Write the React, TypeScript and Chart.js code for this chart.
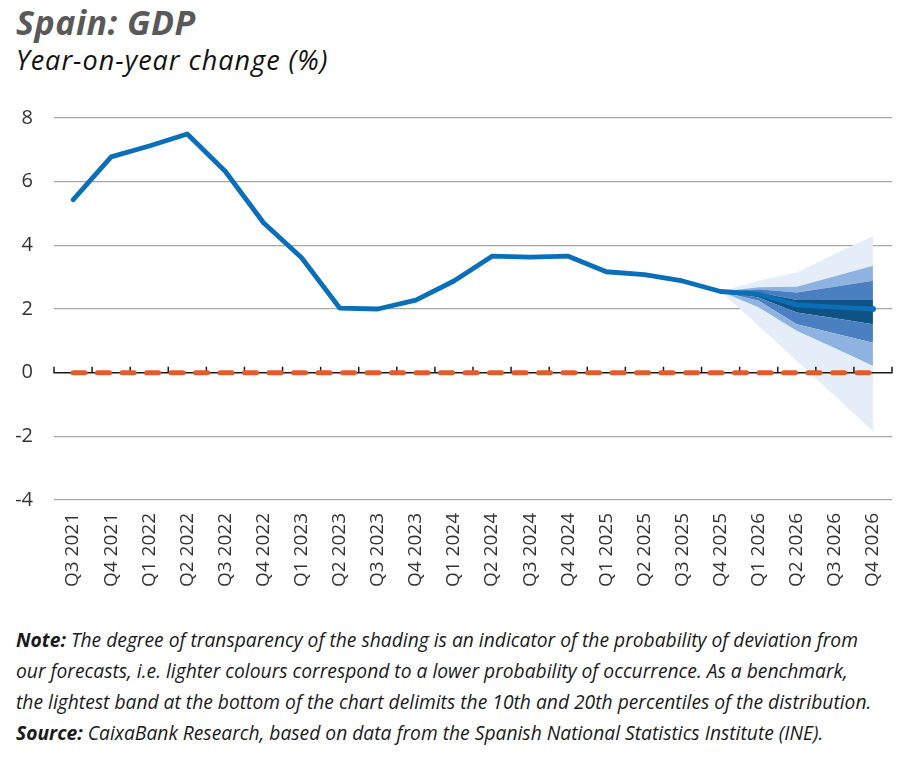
import React, { useEffect, useRef } from "react";
import { Chart, registerables } from "chart.js";

Chart.register(...registerables);

const categories = [
  "Q3 2021", "Q4 2021", "Q1 2022", "Q2 2022", "Q3 2022", "Q4 2022",
  "Q1 2023", "Q2 2023", "Q3 2023", "Q4 2023", "Q1 2024", "Q2 2024",
  "Q3 2024", "Q4 2024", "Q1 2025", "Q2 2025", "Q3 2025", "Q4 2025",
  "Q1 2026", "Q2 2026", "Q3 2026", "Q4 2026",
];

const yMin = -4;
const yMax = 8;
const yStep = 2;

// GDP year-on-year change (%), actual + central forecast
const gdp = [
  5.43, 6.78, 7.12, 7.5, 6.32, 4.71, 3.61, 2.03, 2.0, 2.28, 2.88, 3.66,
  3.63, 3.66, 3.17, 3.08, 2.88, 2.55, 2.47, 2.13, 2.06, 2.0,
];

// reference line at zero
const zeroLine = [0, 0, 0, 0, 0, 0, 0, 0, 0, 0, 0, 0, 0, 0, 0, 0, 0, 0, 0, 0, 0, 0];

// fan chart band edges (percentiles)
const N = null;
const fanP10 = [N, N, N, N, N, N, N, N, N, N, N, N, N, N, N, N, N, 2.55, 1.47, 0.37, -0.73, -1.84];
const fanP20 = [N, N, N, N, N, N, N, N, N, N, N, N, N, N, N, N, N, 2.55, 2.05, 1.31, 0.77, 0.21];
const fanP30 = [N, N, N, N, N, N, N, N, N, N, N, N, N, N, N, N, N, 2.55, 2.26, 1.52, 1.23, 0.94];
const fanP40 = [N, N, N, N, N, N, N, N, N, N, N, N, N, N, N, N, N, 2.55, 2.36, 1.89, 1.71, 1.52];
const fanP60 = [N, N, N, N, N, N, N, N, N, N, N, N, N, N, N, N, N, 2.55, 2.52, 2.28, 2.28, 2.28];
const fanP70 = [N, N, N, N, N, N, N, N, N, N, N, N, N, N, N, N, N, 2.55, 2.62, 2.52, 2.70, 2.89];
const fanP80 = [N, N, N, N, N, N, N, N, N, N, N, N, N, N, N, N, N, 2.55, 2.68, 2.70, 3.03, 3.36];
const fanP90 = [N, N, N, N, N, N, N, N, N, N, N, N, N, N, N, N, N, 2.55, 2.89, 3.15, 3.73, 4.30];

const C_LINE = "#0a6fb8";
const C_ZERO = "#e35b26";
const C_LIGHT = "#e5eef8";
const C_SECOND = "#8fb3e0";
const C_MEDIUM = "#4a7fc1";
const C_DARK = "#0e5384";

const noteLines: [string, string][] = [
  ["Note:", " The degree of transparency of the shading is an indicator of the probability of deviation from"],
  ["", "our forecasts, i.e. lighter colours correspond to a lower probability of occurrence. As a benchmark,"],
  ["", "the lightest band at the bottom of the chart delimits the 10th and 20th percentiles of the distribution."],
  ["Source:", " CaixaBank Research, based on data from the Spanish National Statistics Institute (INE)."],
];

const zeroAxisPlugin = {
  id: "zeroAxis",
  beforeDatasetDraw(chart: any, args: any) {
    if (args.index !== 0) return;
    const { ctx, chartArea, scales } = chart;
    const y = scales.y.getPixelForValue(0);
    const xs = scales.x;
    const n = categories.length;
    const step = n > 1 ? (xs.getPixelForValue(1) - xs.getPixelForValue(0)) : 0;
    ctx.save();
    ctx.strokeStyle = "#1a1a1a";
    ctx.lineWidth = 1.5;
    ctx.beginPath();
    ctx.moveTo(chartArea.left, y);
    ctx.lineTo(chartArea.right, y);
    for (let i = 0; i <= n; i++) {
      const px = xs.getPixelForValue(0) - step / 2 + i * step;
      ctx.moveTo(px, y + 0.75);
      ctx.lineTo(px, y - 6);
    }
    ctx.stroke();
    ctx.restore();
  },
};

function edge(data: (number | null)[], fillTarget: number | false, color: string) {
  return {
    data,
    borderWidth: 0,
    borderColor: "rgba(0,0,0,0)",
    backgroundColor: color,
    pointRadius: 0,
    fill: fillTarget === false ? false : { target: fillTarget },
    tension: 0,
  };
}

export default function App() {
  const canvasRef = useRef<HTMLCanvasElement | null>(null);
  const noteRef = useRef<HTMLDivElement | null>(null);
  const firstLineRef = useRef<HTMLSpanElement | null>(null);

  useEffect(() => {
    document.body.style.margin = "0";
    if (noteRef.current && firstLineRef.current) {
      const w = firstLineRef.current.offsetWidth;
      if (w > 0) noteRef.current.style.transform = `scaleX(${842 / w})`;
    }
    const canvas = canvasRef.current;
    if (!canvas) return;
    const chart = new Chart(canvas, {
      type: "line",
      data: {
        labels: categories,
        datasets: [
          {
            data: zeroLine,
            borderColor: C_ZERO,
            borderWidth: 5,
            borderDash: [12, 12.5],
            borderCapStyle: "round",
            pointRadius: 0,
            fill: false,
          },
          {
            data: gdp,
            borderColor: C_LINE,
            backgroundColor: C_LINE,
            borderWidth: 4.8,
            borderCapStyle: "round",
            borderJoinStyle: "round",
            pointRadius: gdp.map((_, i) => (i === gdp.length - 1 ? 3 : 0)),
            pointBorderWidth: 0,
            fill: false,
            tension: 0,
          },
          edge(fanP10, false, C_LIGHT),
          edge(fanP20, 2, C_LIGHT),
          edge(fanP30, 3, C_SECOND),
          edge(fanP40, 4, C_MEDIUM),
          edge(fanP60, 5, C_DARK),
          edge(fanP70, 6, C_MEDIUM),
          edge(fanP80, 7, C_SECOND),
          edge(fanP90, 8, C_LIGHT),
        ] as any,
      },
      options: {
        animation: false,
        responsive: false,
        maintainAspectRatio: false,
        layout: { padding: { top: 28, right: 8, left: 0, bottom: 0 } },
        plugins: {
          legend: { display: false },
          tooltip: { enabled: false },
        },
        scales: {
          x: {
            offset: true,
            grid: { display: false, drawTicks: false },
            border: { display: false },
            ticks: {
              autoSkip: false,
              minRotation: 90,
              maxRotation: 90,
              padding: 13,
              color: "#333333",
              font: { family: "'Open Sans', sans-serif", size: 19 },
            },
            afterFit: (s: any) => {
              s.height = 120;
              s.paddingLeft = 0;
              s.paddingRight = 0;
            },
          },
          y: {
            min: yMin,
            max: yMax,
            grid: {
              drawTicks: false,
              color: (c: any) => (c.tick && c.tick.value === 0 ? "rgba(0,0,0,0)" : "#a6a6a6"),
              lineWidth: 1.3,
            },
            border: { display: false },
            ticks: {
              stepSize: yStep,
              padding: 21,
              color: "#333333",
              font: { family: "'Open Sans', sans-serif", size: 20 },
            },
            afterFit: (s: any) => {
              s.width = 54;
              s.paddingTop = 0;
              s.paddingBottom = 0;
            },
          },
        },
      },
      plugins: [zeroAxisPlugin],
    });
    return () => chart.destroy();
  }, []);

  return (
    <div
      style={{
        position: "relative",
        width: 900,
        height: 757,
        background: "#ffffff",
        overflow: "hidden",
        fontFamily: "'Open Sans', sans-serif",
      }}
    >
      <div
        style={{
          position: "absolute",
          left: 16,
          top: 5,
          fontSize: 34,
          lineHeight: "34px",
          fontWeight: 700,
          fontStyle: "italic",
          color: "#595959",
          whiteSpace: "nowrap",
          letterSpacing: "0.5px",
        }}
      >
        Spain: GDP
      </div>
      <div
        style={{
          position: "absolute",
          left: 16,
          top: 46,
          fontSize: 27,
          lineHeight: "27px",
          fontStyle: "italic",
          color: "#111111",
          whiteSpace: "nowrap",
          letterSpacing: "1px",
        }}
      >
        Year-on-year change (%)
      </div>
      <canvas
        ref={canvasRef}
        width={900}
        height={530}
        style={{ position: "absolute", left: 0, top: 90, width: 900, height: 530 }}
      />
      <div
        ref={noteRef}
        style={{
          position: "absolute",
          left: 16,
          top: 624,
          fontSize: 20,
          lineHeight: "31px",
          fontStyle: "italic",
          color: "#1a1a1a",
          transformOrigin: "0 0",
          whiteSpace: "nowrap",
        }}
      >
        {noteLines.map(([bold, rest], i) => (
          <div key={i}>
            <span ref={i === 0 ? firstLineRef : undefined} style={{ display: "inline-block" }}>
              {bold ? <b>{bold}</b> : null}
              {rest}
            </span>
          </div>
        ))}
      </div>
    </div>
  );
}
